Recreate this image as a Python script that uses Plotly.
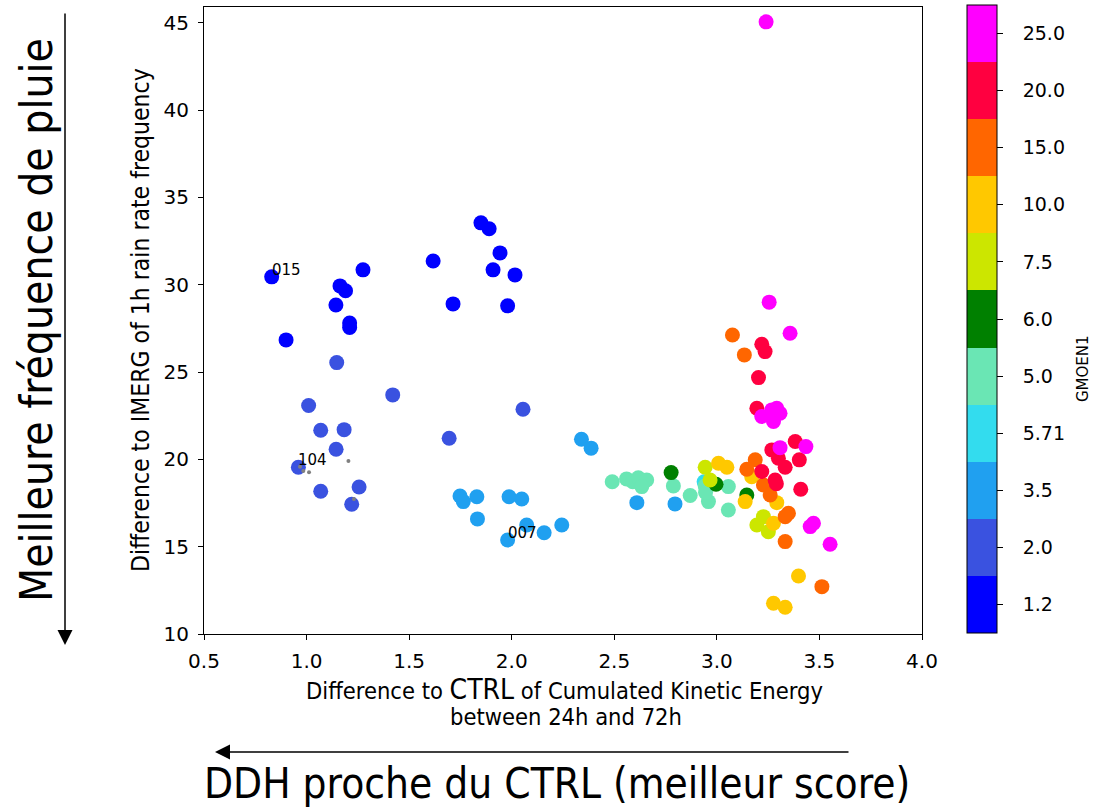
import plotly.graph_objects as go

# ---- data ----
cat_labels = ["1.2", "2.0", "3.5", "5.71", "5.0", "6.0", "7.5", "10.0", "15.0", "20.0", "25.0"]
cat_colors = ["#0000ff", "#3a52e0", "#20a0f0", "#33dcee", "#6ae6b4", "#008000",
              "#cce600", "#ffc800", "#ff6600", "#ff0040", "#ff00ff"]

x_12 = [0.83, 0.90, 1.163, 1.19, 1.143, 1.21, 1.21, 1.275, 1.617, 1.714, 1.85, 1.89, 1.943, 1.909, 2.016, 1.98]
y_12 = [30.45, 26.84, 29.93, 29.65, 28.84, 27.80, 27.55, 30.85, 31.36, 28.90, 33.54, 33.2, 31.82, 30.85, 30.56, 28.79]

x_20 = [1.147, 1.42, 1.01, 1.069, 1.183, 1.144, 0.96, 1.069, 1.256, 1.22, 2.055, 1.695]
y_20 = [25.54, 23.69, 23.08, 21.67, 21.70, 20.58, 19.55, 18.17, 18.42, 17.43, 22.87, 21.21]

x_35 = [1.748, 1.764, 1.83, 1.833, 1.987, 2.049, 2.073, 2.158, 2.244, 1.98, 2.34, 2.387, 2.61, 2.796]
y_35 = [17.9, 17.58, 17.86, 16.59, 17.86, 17.73, 16.24, 15.80, 16.24, 15.38, 21.15, 20.64, 17.52, 17.45]

x_571 = [2.938]
y_571 = [18.72]

x_50 = [2.49, 2.56, 2.59, 2.617, 2.658, 2.634, 2.788, 2.87, 2.959, 2.943, 3.056, 3.056, 2.945]
y_50 = [18.72, 18.88, 18.72, 18.95, 18.82, 18.44, 18.48, 17.93, 17.58, 18.48, 18.44, 17.10, 18.1]

x_60 = [2.777, 2.996, 3.146]
y_60 = [19.24, 18.57, 17.96]

x_75 = [2.943, 2.967, 3.195, 3.227, 3.251]
y_75 = [19.55, 18.82, 16.24, 16.72, 15.86]

x_100 = [3.008, 3.049, 3.138, 3.17, 3.292, 3.276, 3.398, 3.276, 3.333]
y_100 = [19.78, 19.55, 17.58, 19.01, 17.52, 16.34, 13.32, 11.76, 11.53]

x_150 = [3.187, 3.146, 3.227, 3.26, 3.349, 3.333, 3.333, 3.512, 3.076, 3.134]
y_150 = [19.97, 19.43, 18.53, 17.96, 16.91, 16.72, 15.29, 12.71, 27.12, 25.98]

x_200 = [3.219, 3.284, 3.29, 3.268, 3.30, 3.333, 3.382, 3.402, 3.409, 3.195, 3.203, 3.219, 3.235]
y_200 = [19.30, 18.82, 18.6, 20.54, 20.06, 19.55, 21.02, 19.97, 18.29, 22.93, 24.68, 26.59, 26.17]

x_250 = [3.24, 3.255, 3.357, 3.268, 3.292, 3.219, 3.276, 3.308, 3.308, 3.434, 3.455, 3.471, 3.552]
y_250 = [45.05, 29.0, 27.22, 22.83, 22.93, 22.45, 22.17, 22.64, 20.67, 20.73, 16.15, 16.34, 15.14]

x_gray = [0.968, 0.984, 1.012, 1.204, 1.231]
y_gray = [19.58, 19.34, 19.26, 19.91, 17.73]

label_text = ["015", "104", "007"]
label_x = [0.83, 0.96, 1.98]
label_y = [30.45, 19.55, 15.38]

x_ticks = [0.5, 1.0, 1.5, 2.0, 2.5, 3.0, 3.5, 4.0]
y_ticks = [10, 15, 20, 25, 30, 35, 40, 45]

groups_x = [x_12, x_20, x_35, x_571, x_50, x_60, x_75, x_100, x_150, x_200, x_250]
groups_y = [y_12, y_20, y_35, y_571, y_50, y_60, y_75, y_100, y_150, y_200, y_250]

# ---- build ----
all_x, all_y, all_c = [], [], []
for i, (gx, gy) in enumerate(zip(groups_x, groups_y)):
    all_x += gx
    all_y += gy
    all_c += [i] * len(gx)

n = len(cat_colors)
cscale = []
for i, c in enumerate(cat_colors):
    cscale.append([i / n, c])
    cscale.append([(i + 1) / n, c])

W, H = 1095, 807
L, R, T, B = 204, 922, 7, 634
pw, ph = R - L, B - T

def px(xp):
    return (xp - L) / pw

def py(yp):
    return (B - yp) / ph

narrow = "Liberation Sans Narrow, DejaVu Sans Condensed, Arial Narrow, sans-serif"
tickfont = dict(family="DejaVu Sans", size=20, color="black")

fig = go.Figure()
fig.add_trace(go.Scatter(
    x=all_x, y=all_y, mode="markers",
    marker=dict(size=15, color=all_c, colorscale=cscale, cmin=-0.5, cmax=n - 0.5,
                line=dict(width=0),
                colorbar=dict(
                    tickvals=list(range(n)), ticktext=["\u2007\u2009" + t for t in cat_labels],
                    x=px(967), xanchor="left", xpad=0,
                    y=py(319), yanchor="middle", ypad=0,
                    len=628, lenmode="pixels", thickness=30, thicknessmode="pixels",
                    outlinewidth=1, outlinecolor="black",
                    ticks="outside", ticklen=6, tickcolor="black",
                    tickfont=dict(family="DejaVu Sans", size=19, color="black"),
                )),
    showlegend=False, hoverinfo="skip"))

fig.add_trace(go.Scatter(
    x=x_gray, y=y_gray, mode="markers",
    marker=dict(size=4, color="gray"), showlegend=False, hoverinfo="skip"))

for t, lx, ly in zip(label_text, label_x, label_y):
    fig.add_annotation(x=lx, y=ly, xref="x", yref="y", text=t, showarrow=False,
                       xanchor="left", yanchor="bottom", xshift=-2, yshift=-4,
                       font=dict(family="DejaVu Sans", size=15, color="black"))

# colorbar title
fig.add_annotation(x=px(1083), y=py(369), xref="paper", yref="paper", textangle=-90,
                   text="GMOEN1", showarrow=False, xanchor="center", yanchor="middle",
                   font=dict(family="DejaVu Sans", size=15, color="black"))

# axis titles
fig.add_annotation(x=px(140), y=py(320), xref="paper", yref="paper", textangle=-90,
                   text="Difference to IMERG of 1h rain rate frequency", showarrow=False,
                   xanchor="center", yanchor="middle",
                   font=dict(family=narrow, size=24.5, color="black"))
fig.add_annotation(x=px(564), y=py(689), xref="paper", yref="paper",
                   text="Difference to <span style='font-size:28px'>CTRL</span> of Cumulated Kinetic Energy",
                   showarrow=False, xanchor="center", yanchor="middle",
                   font=dict(family=narrow, size=23.5, color="black"))
fig.add_annotation(x=px(566), y=py(717), xref="paper", yref="paper",
                   text="between 24h and 72h",
                   showarrow=False, xanchor="center", yanchor="middle",
                   font=dict(family=narrow, size=23.5, color="black"))

# outer arrows and French text
fig.add_annotation(x=px(65), y=py(645), xref="paper", yref="paper", text="",
                   showarrow=True, ax=0, ay=-633, axref="pixel", ayref="pixel",
                   arrowhead=2, arrowsize=2, arrowwidth=1.5, arrowcolor="black")
fig.add_annotation(x=px(215), y=py(752), xref="paper", yref="paper", text="",
                   showarrow=True, ax=635, ay=0, axref="pixel", ayref="pixel",
                   arrowhead=2, arrowsize=2, arrowwidth=1.5, arrowcolor="black")
fig.add_annotation(x=px(36), y=py(320), xref="paper", yref="paper", textangle=-90,
                   text="Meilleure fréquence de pluie", showarrow=False,
                   xanchor="center", yanchor="middle",
                   font=dict(family=narrow, size=44, color="black"))
fig.add_annotation(x=px(557), y=py(783), xref="paper", yref="paper",
                   text="DDH proche du CTRL (meilleur score)", showarrow=False,
                   xanchor="center", yanchor="middle",
                   font=dict(family=narrow, size=42, color="black"))

fig.update_xaxes(range=[0.5, 4.0], tickvals=x_ticks, ticktext=[f"{v:.1f}" for v in x_ticks],
                 showgrid=False, zeroline=False, showline=True, mirror=True,
                 linecolor="black", linewidth=1.2, ticks="outside", ticklen=5,
                 tickcolor="black", tickfont=tickfont, ticklabelstandoff=4)
fig.update_yaxes(range=[10, 45.9], tickvals=y_ticks, ticktext=[str(v) for v in y_ticks],
                 showgrid=False, zeroline=False, showline=True, mirror=True,
                 linecolor="black", linewidth=1.2, ticks="outside", ticklen=5,
                 tickcolor="black", tickfont=tickfont, ticklabelstandoff=5)

fig.update_layout(width=W, height=H, margin=dict(l=L, r=W - R, t=T, b=H - B, autoexpand=False),
                  plot_bgcolor="white", paper_bgcolor="white")

fig.write_html("out.html", config={"displayModeBar": False},
               post_script="document.body.style.margin='0px';")
